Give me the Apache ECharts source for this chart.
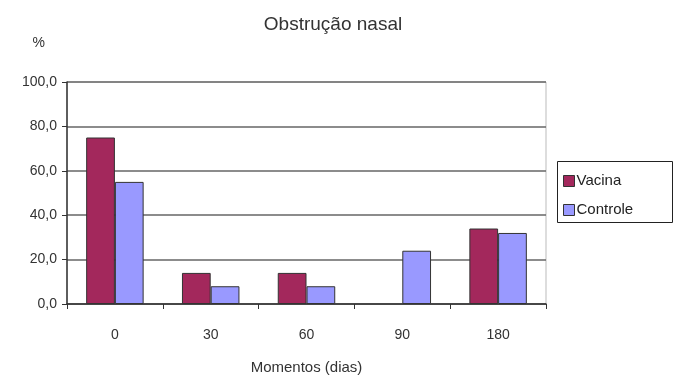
<!DOCTYPE html>
<html>
<head>
<meta charset="utf-8">
<script src="https://cdn.jsdelivr.net/npm/echarts@6/dist/echarts.min.js"></script>
<style>
  html, body { margin: 0; padding: 0; background: #fff; }
  #chart { width: 676px; height: 378px; }
</style>
</head>
<body>
<div id="chart"></div>
<script>
// Obstrução nasal: % de pacientes por momento de avaliação
const categories = ['0', '30', '60', '90', '180'];
const vacina = [75, 14, 14, 0, 34];
const controle = [55, 8, 8, 24, 32];
const seriesNames = ['Vacina', 'Controle'];

const font = '"Liberation Sans", Arial, sans-serif';
const chart = echarts.init(document.getElementById('chart'), null, { renderer: 'canvas' });

// zero-height bars get no outline, so no stray line sits on the axis
const asBarData = arr => arr.map(v => v === 0 ? { value: v, itemStyle: { borderWidth: 0 } } : v);

chart.setOption({
  backgroundColor: '#fff',
  animation: false,
  title: {
    text: 'Obstrução nasal',
    left: 328, textAlign: 'center', top: 10,
    textStyle: { fontFamily: font, fontSize: 19, fontWeight: 'normal', color: '#333' }
  },
  graphic: [{
    type: 'rect',
    shape: { x: 557.5, y: 161.5, width: 115, height: 61 },
    style: { fill: 'none', stroke: '#222', lineWidth: 1 },
    z: 10
  }],
  legend: {
    orient: 'vertical',
    left: 563, top: 173,
    padding: 0,
    itemGap: 13,
    itemWidth: 11, itemHeight: 11,
    icon: 'rect',
    itemStyle: { borderColor: '#333', borderWidth: 1 },
    textStyle: { fontFamily: font, fontSize: 15, lineHeight: 16, color: '#222', padding: [0, 0, 0, -3] },
    data: seriesNames
  },
  grid: { left: 67, right: 130, top: 82, bottom: 74, containLabel: false,
          outerBoundsMode: 'none',
          show: true, borderColor: '#bbb', borderWidth: 1 },
  xAxis: {
    type: 'category',
    data: categories,
    name: 'Momentos (dias)',
    nameLocation: 'middle',
    nameGap: 56,
    nameTextStyle: { fontFamily: font, fontSize: 15, color: '#333' },
    axisLine: { lineStyle: { color: '#333', width: 1.5 } },
    axisTick: { show: true, length: 5, lineStyle: { color: '#333' } },
    axisLabel: { fontFamily: font, fontSize: 14, color: '#333', margin: 24 }
  },
  yAxis: {
    type: 'value',
    min: 0, max: 100, interval: 20,
    name: '%',
    nameLocation: 'end',
    nameGap: 32,
    nameTextStyle: { fontFamily: font, fontSize: 14, color: '#333', align: 'right', padding: [0, 22, 0, 0] },
    axisLine: { show: true, lineStyle: { color: '#333', width: 1.5 } },
    axisTick: { show: true, length: 5, lineStyle: { color: '#333' } },
    axisLabel: {
      fontFamily: font, fontSize: 14, color: '#333', margin: 10,
      formatter: v => v.toFixed(1).replace('.', ',')
    },
    splitLine: { show: true, lineStyle: { color: '#666', width: 1.5 } }
  },
  series: [
    {
      name: seriesNames[0], type: 'bar', data: asBarData(vacina),
      barGap: '0%', barCategoryGap: '40%',
      itemStyle: { color: '#A3285C', borderColor: '#333', borderWidth: 1 }
    },
    {
      name: seriesNames[1], type: 'bar', data: asBarData(controle),
      barGap: '0%', barCategoryGap: '40%',
      itemStyle: { color: '#9999FF', borderColor: '#333', borderWidth: 1 }
    }
  ]
});
</script>
</body>
</html>
